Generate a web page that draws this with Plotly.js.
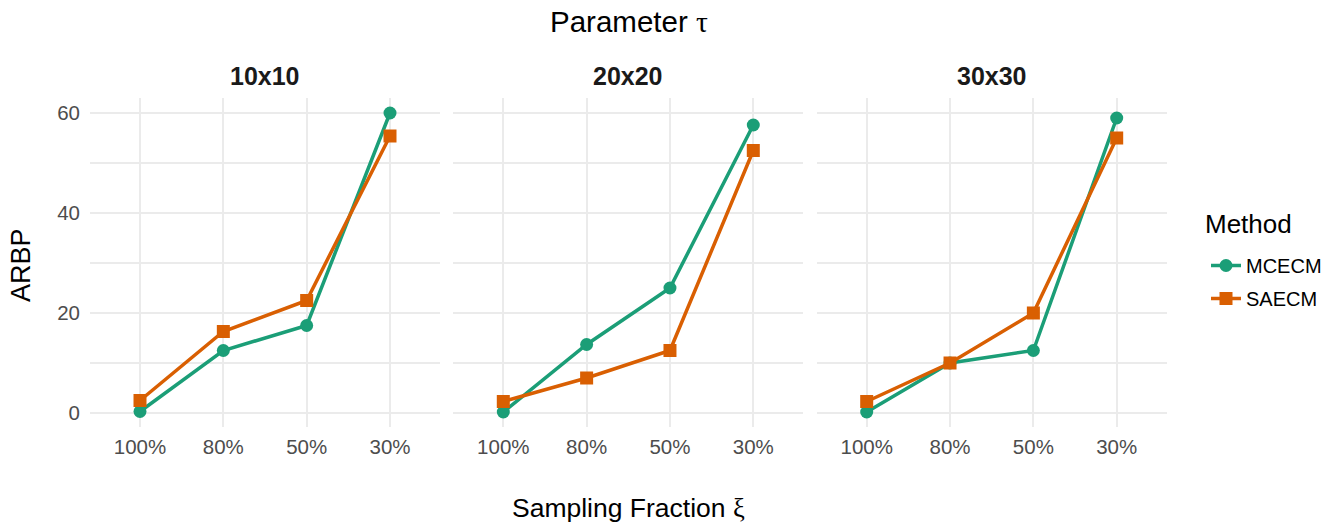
<!DOCTYPE html>
<html>
<head>
<meta charset="utf-8">
<script src="https://cdn.plot.ly/plotly-3.0.1.min.js"></script>
<style>html,body{margin:0;padding:0;background:#fff;}</style>
</head>
<body>
<div id="chart" style="width:1344px;height:529px;"></div>
<script>
// ---- data ----
const categories = ["100%", "80%", "50%", "30%"];
const panels = ["10x10", "20x20", "30x30"];
const mcecm_10 = [0.3, 12.5, 17.5, 60.0];
const saecm_10 = [2.5, 16.3, 22.5, 55.4];
const mcecm_20 = [0.2, 13.7, 25.0, 57.6];
const saecm_20 = [2.3, 7.0, 12.5, 52.5];
const mcecm_30 = [0.2, 10.0, 12.5, 59.0];
const saecm_30 = [2.3, 10.0, 20.0, 55.0];
const yTicks = [0, 20, 40, 60];

const mcecm = [mcecm_10, mcecm_20, mcecm_30];
const saecm = [saecm_10, saecm_20, saecm_30];

const green = "#1B9E77", orange = "#D95F02";
const FONT = "Liberation Sans, Arial, sans-serif";
const W = 1344, H = 529;

const traces = [];
for (let i = 0; i < 3; i++) {
  const xa = i === 0 ? "x" : "x" + (i + 1);
  const ya = i === 0 ? "y" : "y" + (i + 1);
  traces.push({
    x: categories, y: mcecm[i], xaxis: xa, yaxis: ya, type: "scatter", mode: "lines+markers",
    name: "MCECM", legendgroup: "MCECM", showlegend: i === 0,
    line: {color: green, width: 3.5}, marker: {color: green, size: 13, symbol: "circle"}
  });
  traces.push({
    x: categories, y: saecm[i], xaxis: xa, yaxis: ya, type: "scatter", mode: "lines+markers",
    name: "SAECM", legendgroup: "SAECM", showlegend: i === 0,
    line: {color: orange, width: 3.5}, marker: {color: orange, size: 13, symbol: "square"}
  });
}

const px = [[90, 440], [453.3, 803.3], [816.7, 1166.7]];
const yDom = [1 - 427 / H, 1 - 98 / H];

const layout = {
  width: W, height: H,
  margin: {l: 0, r: 0, t: 0, b: 0},
  paper_bgcolor: "#fff", plot_bgcolor: "#fff",
  font: {family: FONT, color: "#000"},
  showlegend: true,
  legend: {
    x: 1206 / W, y: 1 - 246 / H, xanchor: "left", yanchor: "top",
    font: {size: 20, family: FONT, color: "#000"},
    traceorder: "grouped", tracegroupgap: 4,
    bgcolor: "rgba(0,0,0,0)"
  },
  annotations: [],
  hovermode: false
};

for (let i = 0; i < 3; i++) {
  const sx = i === 0 ? "" : String(i + 1);
  layout["xaxis" + sx] = {
    domain: [px[i][0] / W, px[i][1] / W],
    anchor: "y" + sx,
    type: "category", categoryorder: "array", categoryarray: categories,
    range: [-0.6, 3.6],
    showgrid: true, gridcolor: "#EBEBEB", gridwidth: 2,
    zeroline: false, showline: false, ticks: "",
    tickfont: {size: 20.5, family: FONT, color: "#4D4D4D"},
    ticklabelstandoff: 5,
    fixedrange: true
  };
  layout["yaxis" + sx] = {
    domain: yDom,
    anchor: "x" + sx,
    range: [-2.8, 63],
    tickvals: yTicks,
    ticktext: yTicks.map(String),
    showticklabels: i === 0,
    showgrid: true, gridcolor: "#EBEBEB", gridwidth: 2,
    minor: {tickvals: [10, 30, 50], showgrid: true, gridcolor: "#EBEBEB", gridwidth: 1.2, ticks: ""},
    zeroline: false, showline: false, ticks: "",
    tickfont: {size: 20.5, family: FONT, color: "#4D4D4D"},
    ticklabelstandoff: 9,
    fixedrange: true
  };
  layout.annotations.push({
    text: "<b>" + panels[i] + "</b>", xref: "paper", yref: "paper",
    x: (px[i][0] + px[i][1]) / 2 / W, y: 1 - 76 / H, xanchor: "center", yanchor: "middle",
    showarrow: false, font: {size: 25, family: FONT, color: "#1A1A1A"}
  });
}

const greek = (c) => "<span style=\"font-family:'Liberation Serif', serif\">" + c + "</span>";

layout.annotations.push({
  text: "Parameter " + greek("τ"), xref: "paper", yref: "paper",
  x: 628.5 / W, y: 1 - 22 / H, xanchor: "center", yanchor: "middle",
  showarrow: false, font: {size: 29.5, family: FONT, color: "#000"}
});
layout.annotations.push({
  text: "Sampling Fraction " + greek("ξ"), xref: "paper", yref: "paper",
  x: 628.5 / W, y: 1 - 508 / H, xanchor: "center", yanchor: "middle",
  showarrow: false, font: {size: 26.5, family: FONT, color: "#000"}
});
layout.annotations.push({
  text: "ARBP", xref: "paper", yref: "paper", textangle: -90,
  x: 21 / W, y: 1 - 265 / H, xanchor: "center", yanchor: "middle",
  showarrow: false, font: {size: 27, family: FONT, color: "#000"}
});
layout.annotations.push({
  text: "Method", xref: "paper", yref: "paper",
  x: 1203 / W, y: 1 - 224 / H, xanchor: "left", yanchor: "middle",
  showarrow: false, font: {size: 26, family: FONT, color: "#000"}
});

Plotly.newPlot("chart", traces, layout, {staticPlot: true, displayModeBar: false});
</script>
</body>
</html>
